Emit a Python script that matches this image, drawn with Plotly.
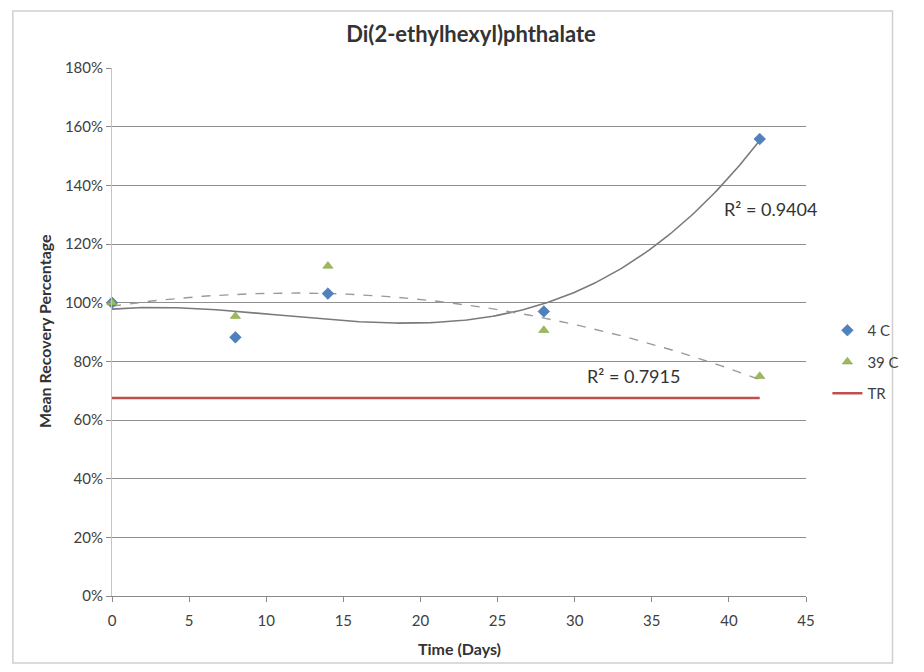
import numpy as np
import plotly.graph_objects as go

# ---- data ----
days = [0, 8, 14, 28, 42]
rec_4c = [100.0, 88.2, 103.1, 97.0, 155.8]
rec_39c = [100.0, 95.4, 112.5, 90.6, 74.9]
tr_days = [0, 42]
tr_vals = [67.5, 67.5]
r2_4c_label = "R² = 0.9404"
r2_39c_label = "R² = 0.7915"
x_ticks = [0, 5, 10, 15, 20, 25, 30, 35, 40, 45]
y_ticks = [0, 20, 40, 60, 80, 100, 120, 140, 160, 180]
y_tick_labels = ["0%", "20%", "40%", "60%", "80%", "100%", "120%", "140%", "160%", "180%"]

FONT = "Lato"
OFF = 8  # page body margin
W, H = 924 - 2 * OFF, 672 - 2 * OFF
# desired page-pixel plot box: x 112..826, y 68..596
L, T = 112 - OFF, 68 - OFF
R = W - (826 - OFF)
B = H - (596 - OFF)
pw, ph = W - L - R, H - T - B

# trendlines (Excel-style polynomial fits)
xf = np.linspace(0, 42, 200)
c4 = np.polyfit(days, rec_4c, 3)
c39 = np.polyfit(days, rec_39c, 2)

fig = go.Figure()
fig.add_trace(go.Scatter(x=xf, y=np.polyval(c4, xf), mode="lines",
                         line=dict(color="#7a7a7a", width=1.6),
                         showlegend=False, hoverinfo="skip"))
fig.add_trace(go.Scatter(x=xf, y=np.polyval(c39, xf), mode="lines",
                         line=dict(color="#9a9a9a", width=1.4, dash="dash"),
                         showlegend=False, hoverinfo="skip"))
fig.add_trace(go.Scatter(x=days, y=rec_4c, mode="markers", name="4 C",
                         legendgroup="a",
                         marker=dict(symbol="diamond", size=9, color="#4F81BD",
                                     line=dict(color="#3a6aa8", width=0.5)),
                         cliponaxis=False))
fig.add_trace(go.Scatter(x=days, y=rec_39c, mode="markers", name="39 C",
                         legendgroup="b",
                         marker=dict(symbol="triangle-up", size=9, color="#9BBB59",
                                     line=dict(color="#7f9a45", width=0.5)),
                         cliponaxis=False))
fig.add_trace(go.Scatter(x=tr_days, y=tr_vals, mode="lines", name="TR",
                         legendgroup="c",
                         line=dict(color="#C0504D", width=2.5),
                         cliponaxis=False))

def px_x(p):
    return (p - OFF - L) / pw

def px_y(p):
    return (H - B - (p - OFF)) / ph

annotations = [
    dict(text=r2_4c_label, x=42.7, y=131.9, xref="x", yref="y", showarrow=False,
         xanchor="center", yanchor="middle",
         font=dict(family=FONT, size=18, color="#333333")),
    dict(text=r2_39c_label, x=33.8, y=75.0, xref="x", yref="y", showarrow=False,
         xanchor="center", yanchor="middle",
         font=dict(family=FONT, size=18, color="#333333")),
    dict(text="<b>Mean Recovery Percentage</b>", x=px_x(42), y=px_y(331),
         xref="paper", yref="paper", showarrow=False, textangle=-90,
         xanchor="center", yanchor="middle",
         font=dict(family=FONT, size=16, color="#333333")),
    dict(text="<b>Time (Days)</b>", x=px_x(469), y=px_y(648),
         xref="paper", yref="paper", showarrow=False,
         xanchor="center", yanchor="middle",
         font=dict(family=FONT, size=16, color="#333333")),
]

fig.update_layout(
    width=W, height=H,
    margin=dict(l=L, r=R, t=T, b=B),
    paper_bgcolor="white", plot_bgcolor="white",
    font=dict(family=FONT, size=15, color="#404040"),
    title=dict(text="<b>Di(2-ethylhexyl)phthalate</b>", x=(471 - OFF) / W, xanchor="center",
               y=1 - (34 - OFF) / H, yanchor="middle", yref="container",
               font=dict(family=FONT, size=22, color="#333333")),
    showlegend=True,
    legend=dict(x=px_x(848), y=px_y(362), xanchor="left", yanchor="middle",
                xref="paper", yref="paper", traceorder="grouped",
                tracegroupgap=9, bgcolor="rgba(0,0,0,0)",
                font=dict(family=FONT, size=15, color="#404040")),
    annotations=annotations,
    shapes=[dict(type="rect", xref="paper", yref="paper",
                 x0=px_x(10), x1=px_x(915), y0=px_y(663), y1=px_y(11),
                 line=dict(color="#cfcfcf", width=1.5), layer="below")],
)
fig.update_xaxes(range=[0, 45], tickvals=x_ticks, showgrid=False, zeroline=False,
                 showline=True, linecolor="#8a8a8a", linewidth=1,
                 ticks="outside", ticklen=5, tickcolor="#8a8a8a",
                 ticklabelstandoff=6,
                 tickfont=dict(family=FONT, size=15, color="#404040"))
fig.update_yaxes(range=[0, 180], tickvals=y_ticks, ticktext=y_tick_labels,
                 showgrid=True, gridcolor="#8f8f8f", gridwidth=1, zeroline=False,
                 showline=True, linecolor="#c4c4c4", linewidth=1,
                 ticks="outside", ticklen=5, tickcolor="#8a8a8a",
                 tickfont=dict(family=FONT, size=15, color="#404040"))

fig.write_html("out.html")
